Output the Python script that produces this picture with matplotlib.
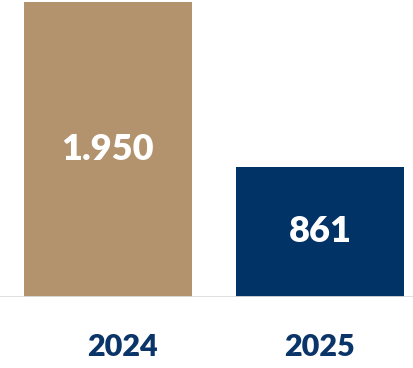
import matplotlib.pyplot as plt
from matplotlib.transforms import ScaledTranslation

years = ["2024", "2025"]
values = [1950, 861]
value_labels = ["1.950", "861"]
colors = ["#B3936D", "#023366"]

fig = plt.figure(figsize=(4.13, 3.68), dpi=100)
ax = fig.add_axes([0, 71 / 368, 1, 297 / 368])

x = list(range(len(years)))
bars = ax.bar(x, values, width=0.792, color=colors, zorder=2)

for bar, lab in zip(bars, value_labels):
    ax.text(bar.get_x() + bar.get_width() / 2, bar.get_height() / 2, lab,
            ha="center", va="center", color="white", fontsize=26,
            fontweight="heavy", family="Lato")

ax.set_xlim(-0.509, 1.439)
ax.set_ylim(0, 1950 * 297 / 295)
ax.axhline(0, color="#DDDDDD", lw=2, zorder=3)

for s in ax.spines.values():
    s.set_visible(False)
ax.set_yticks([])
ax.set_xticks([])

# year labels under the baseline
nudge = [0.07, 0.0]
for i, yr in enumerate(years):
    ax.text(i + nudge[i], 0, yr, ha="center", va="center", color="#0B3468",
            fontsize=22, fontweight="heavy", family="Lato",
            transform=ax.transData + ScaledTranslation(0, -50 / 100, fig.dpi_scale_trans))

fig.savefig("out.png", dpi=100)
